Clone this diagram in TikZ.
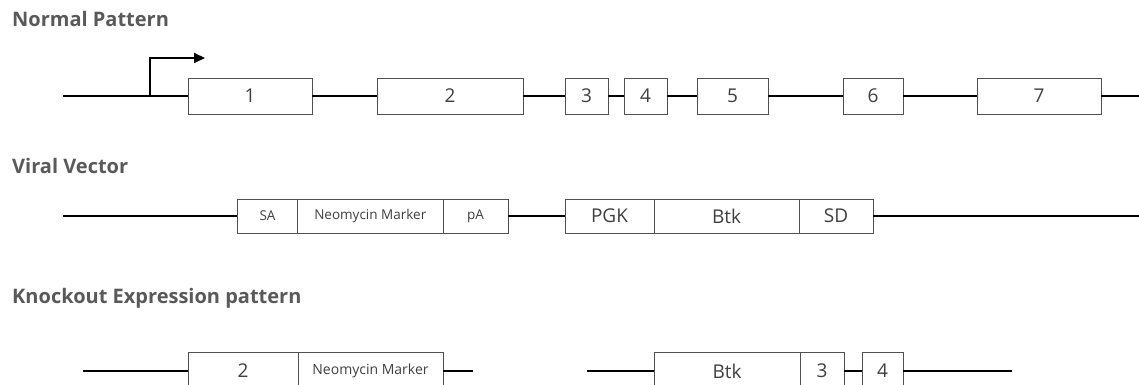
\documentclass[tikz,border=0pt]{standalone}
\usepackage{fontspec}
\setmainfont{Open Sans}
\usetikzlibrary{arrows.meta}
\definecolor{labelgray}{HTML}{404040}
\definecolor{titlegray}{HTML}{595959}
\definecolor{edgegray}{HTML}{505050}

\begin{document}
\begin{tikzpicture}[x=1pt,y=-1pt,
  exon/.style={draw=edgegray, line width=0.9pt, fill=white, inner sep=0pt,
    minimum height=36pt, text=labelgray, font=\fontsize{19}{19}\selectfont},
  small/.style={font=\fontsize{13.5}{14}\selectfont},
  heading/.style={anchor=base west, inner sep=0pt, text=titlegray,
    font=\fontsize{20}{21}\selectfont\bfseries},
  strand/.style={line width=2.6pt, line cap=butt},
  linker/.style={line width=1.5pt, line cap=butt}
]
\clip (0,0) rectangle (1139,385);

% ---------- Normal pattern ----------
\node[heading] (t1) at (12,27) {Normal Pattern};

\coordinate (a0) at (63,96);
\coordinate (tss) at (150,96);
\coordinate (tssend) at (205,58);
\coordinate (a8) at (1139,96);
\node[exon, minimum width=124pt] (e1) at (250,96) {1};
\node[exon, minimum width=146pt] (e2) at (450,96) {2};
\node[exon, minimum width=43pt]  (e3) at (586.5,96) {3};
\node[exon, minimum width=43pt]  (e4) at (645.5,96) {4};
\node[exon, minimum width=71pt]  (e5) at (732.5,96) {5};
\node[exon, minimum width=60pt]  (e6) at (873,96) {6};
\node[exon, minimum width=124pt] (e7) at (1039,96) {7};

\draw[strand] (a0) -- (e1.west);
\draw[strand] (e1.east) -- (e2.west);
\draw[linker] (e2.east) -- (e3.west);
\draw[linker] (e3.east) -- (e4.west);
\draw[strand] (e4.east) -- (e5.west);
\draw[strand] (e5.east) -- (e6.west);
\draw[strand] (e6.east) -- (e7.west);
\draw[strand] (e7.east) -- (a8);
\draw[line width=2pt, -{Triangle[length=11pt,width=10pt]}] (tss) |- (tssend);

% ---------- Viral vector ----------
\node[heading] (t2) at (12,173) {Viral Vector};

\coordinate (b0) at (63,216);
\coordinate (b9) at (1139,216);
\node[exon, small, minimum height=34pt, minimum width=60pt]    (sa)  at (267.5,216) {SA};
\node[exon, small, minimum height=34pt, minimum width=145.5pt] (neo) at (370.25,216) {Neomycin Marker};
\node[exon, small, minimum height=34pt, minimum width=65pt]    (pa)  at (475.5,216) {pA};
\node[exon, minimum height=34pt, minimum width=89pt]  (pgk) at (609.5,216) {PGK};
\node[exon, minimum height=34pt, minimum width=145pt] (btk) at (726.5,216) {Btk};
\node[exon, minimum height=34pt, minimum width=74pt]  (sd)  at (836,216) {SD};

\draw[strand] (b0) -- (sa.west);
\draw[linker] (pa.east) -- (pgk.west);
\draw[strand] (sd.east) -- (b9);

% ---------- Knockout expression pattern ----------
\node[heading] (t3) at (12,303) {Knockout Expression pattern};

\coordinate (c0) at (83,371);
\coordinate (c1) at (473,371);
\coordinate (c2) at (587,371);
\coordinate (c3) at (1012,371);
\node[exon, minimum height=38pt, minimum width=110pt] (k2)   at (243,371) {2};
\node[exon, minimum height=38pt, minimum width=145pt, font=\fontsize{14}{14}\selectfont] (kneo) at (370.5,371) {Neomycin Marker};
\node[exon, minimum height=38pt, minimum width=146pt] (kbtk) at (727,371) {Btk};
\node[exon, minimum height=38pt, minimum width=44pt]  (k3)   at (822,371) {3};
\node[exon, minimum height=38pt, minimum width=41pt]  (k4)   at (882.5,371) {4};

\draw[linker] (c0) -- (k2.west);
\draw[linker] (kneo.east) -- (c1);
\draw[linker] (c2) -- (kbtk.west);
\draw[linker] (k3.east) -- (k4.west);
\draw[linker] (k4.east) -- (c3);
\end{tikzpicture}
\end{document}
